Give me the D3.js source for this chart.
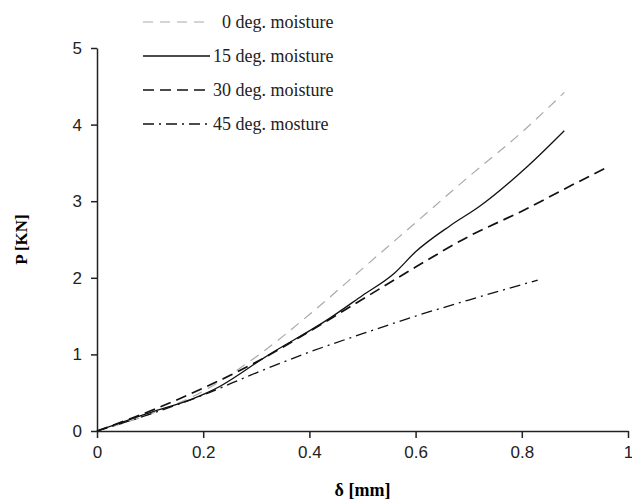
<!DOCTYPE html>
<html>
<head>
<meta charset="utf-8">
<script src="https://cdn.jsdelivr.net/npm/d3@7"></script>
<style>
  body { margin: 0; background: #fff; }
  .axis text { font-family: "Liberation Sans", Arial, sans-serif; font-size: 17px; fill: #222; }
  .axis path, .axis line { stroke: #222; stroke-width: 1.5; }
</style>
</head>
<body>
<div id="chart-area"></div>
<script>
// data (delta in mm, P in kN)
var d0  = [0, 0.1, 0.2, 0.3, 0.4, 0.5, 0.6, 0.7, 0.8, 0.88];
var p0  = [0, 0.22, 0.52, 0.97, 1.52, 2.12, 2.72, 3.32, 3.90, 4.42];
var d15 = [0, 0.1, 0.18, 0.22, 0.32, 0.44, 0.5, 0.56, 0.6, 0.665, 0.72, 0.81, 0.88];
var p15 = [0, 0.24, 0.42, 0.54, 0.98, 1.48, 1.77, 2.06, 2.34, 2.68, 2.93, 3.45, 3.92];
var d30 = [0, 0.1, 0.2, 0.3, 0.4, 0.5, 0.6, 0.7, 0.8, 0.9, 0.96];
var p30 = [0, 0.26, 0.56, 0.9, 1.3, 1.72, 2.14, 2.54, 2.87, 3.23, 3.44];
var d45 = [0, 0.1, 0.2, 0.3, 0.4, 0.5, 0.6, 0.7, 0.83];
var p45 = [0, 0.22, 0.47, 0.76, 1.03, 1.27, 1.50, 1.71, 1.97];

var names = ["0", "15", "30", "45"];
var labels = [" deg. moisture", " deg. moisture", " deg. moisture", " deg. mosture"];
var xTicks = [0, 0.2, 0.4, 0.6, 0.8, 1];
var yTicks = [0, 1, 2, 3, 4, 5];

// line styles per series
var strokes = ["#aaa", "#111", "#111", "#111"];
var widths = [1.2, 1.3, 1.7, 1.3];
var dashes = ["10,7", null, "11,6", "11,5,2,5"];

var margin = { left: 97, right: 4, top: 48, bottom: 69 };
var width = 632 - margin.left - margin.right,
    height = 500 - margin.top - margin.bottom;

var svg = d3.select("#chart-area")
    .append("svg")
        .attr("width", 632)
        .attr("height", 500)
    .append("g")
        .attr("transform", "translate(" + margin.left + "," + margin.top + ")");

var xScale = d3.scaleLinear().domain([0, 1]).range([0, width]);
var yScale = d3.scaleLinear().domain([0, 5]).range([height, 0]);

// axes
svg.append("g")
    .attr("class", "x axis")
    .attr("transform", "translate(0," + height + ")")
    .call(d3.axisBottom(xScale).tickValues(xTicks).tickSize(7).tickSizeOuter(0).tickPadding(8)
        .tickFormat(function(d) { return d === 0 || d === 1 ? d : d3.format(".1f")(d); }));

svg.append("g")
    .attr("class", "y axis")
    .call(d3.axisLeft(yScale).tickValues(yTicks).tickSize(6).tickSizeOuter(0).tickPadding(9)
        .tickFormat(d3.format("d")));

// axis titles
svg.append("text")
    .attr("transform", "rotate(-90)")
    .attr("x", -(yScale(2.5)))
    .attr("y", 21 - margin.left)
    .attr("dy", "0.35em")
    .attr("text-anchor", "middle")
    .style("font-family", "'Liberation Serif', 'Times New Roman', serif")
    .style("font-weight", "bold")
    .style("font-size", "17px")
    .text("P [KN]");

svg.append("text")
    .attr("x", xScale(0.5))
    .attr("y", height + 59)
    .attr("dy", "0.35em")
    .attr("text-anchor", "middle")
    .style("font-family", "'Liberation Serif', 'Times New Roman', serif")
    .style("font-weight", "bold")
    .style("font-size", "18px")
    .text("δ [mm]");

// series
var series = [
    { x: d0, y: p0 },
    { x: d15, y: p15 },
    { x: d30, y: p30 },
    { x: d45, y: p45 }
];

var line = d3.line()
    .curve(d3.curveMonotoneX)
    .x(function(d) { return xScale(d[0]); })
    .y(function(d) { return yScale(d[1]); });

series.forEach(function(s, i) {
    var pts = s.x.map(function(v, j) { return [v, s.y[j]]; });
    svg.append("path")
        .datum(pts)
        .attr("d", line)
        .attr("fill", "none")
        .attr("stroke", strokes[i])
        .attr("stroke-width", widths[i])
        .attr("stroke-dasharray", dashes[i]);
});

// legend (page coordinates)
var legend = d3.select("svg").append("g");
var legendY = [22, 56, 90, 124];
names.forEach(function(n, i) {
    legend.append("line")
        .attr("x1", 143).attr("x2", 210)
        .attr("y1", legendY[i]).attr("y2", legendY[i])
        .attr("stroke", strokes[i])
        .attr("stroke-width", widths[i])
        .attr("stroke-dasharray", dashes[i]);
    legend.append("text")
        .attr("x", 231)
        .attr("y", legendY[i])
        .attr("dy", "0.35em")
        .attr("text-anchor", "end")
        .style("font-family", "'Liberation Serif', 'Times New Roman', serif")
        .style("font-size", "18px")
        .style("fill", "#222")
        .text(n);
    legend.append("text")
        .attr("x", 231)
        .attr("y", legendY[i])
        .attr("dy", "0.35em")
        .style("font-family", "'Liberation Serif', 'Times New Roman', serif")
        .style("font-size", "18px")
        .style("fill", "#222")
        .style("white-space", "pre")
        .attr("xml:space", "preserve")
        .text(labels[i]);
});
</script>
</body>
</html>
